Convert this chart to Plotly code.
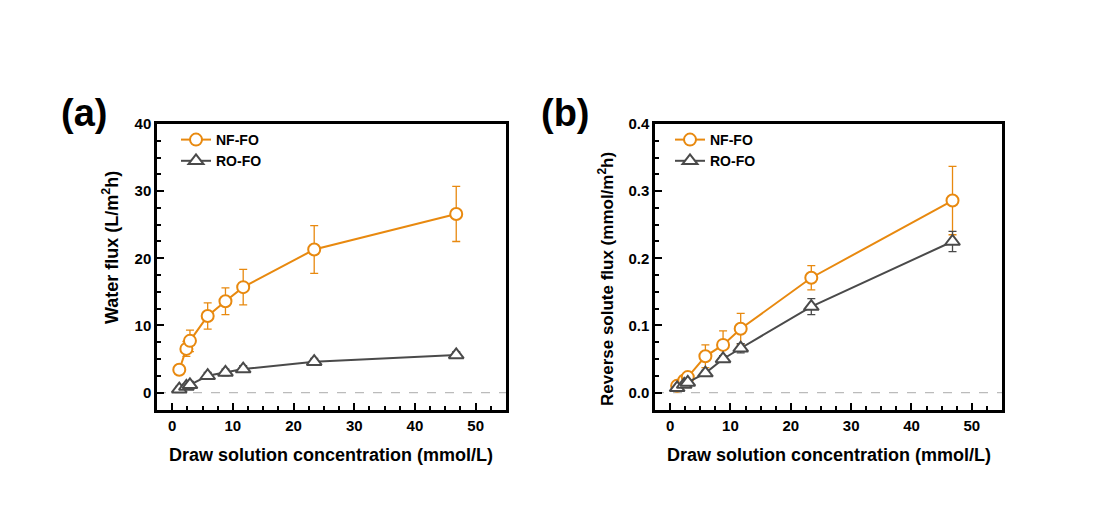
import plotly.graph_objects as go

# ---- data ----
conc = [1.17, 2.34, 2.93, 5.85, 8.78, 11.7, 23.4, 46.8]

# (a) water flux, L/m2h
nf_flux = [3.4, 6.5, 7.7, 11.4, 13.6, 15.7, 21.3, 26.6]
nf_flux_err = [0.7, 1.1, 1.6, 1.95, 2.0, 2.65, 3.55, 4.1]
ro_flux = [0.5, 0.9, 1.15, 2.5, 3.0, 3.5, 4.6, 5.6]
ro_flux_err = [0.4, 0.4, 0.5, 0.5, 0.5, 0.5, 0.5, 0.5]

# (b) reverse solute flux, mmol/m2h
nf_rsf = [0.010, 0.018, 0.023, 0.054, 0.071, 0.095, 0.171, 0.286]
nf_rsf_err = [0.003, 0.004, 0.005, 0.017, 0.021, 0.023, 0.018, 0.051]
ro_rsf = [0.007, 0.012, 0.015, 0.029, 0.050, 0.066, 0.128, 0.225]
ro_rsf_err = [0.003, 0.003, 0.003, 0.004, 0.005, 0.007, 0.012, 0.015]

ORANGE = "#E8890F"
GRAY = "#4A4A4A"
FONT = "Liberation Sans, Arial, sans-serif"

fig = go.Figure()

def add_series(x, y, err, name, color, symbol, xa, ya, legend, msize):
    fig.add_trace(go.Scatter(
        x=x, y=y, name=name, mode="lines+markers",
        xaxis=xa, yaxis=ya, legend=legend,
        line=dict(color=color, width=2),
        marker=dict(symbol=symbol, size=msize, color="white",
                    line=dict(color=color, width=2)),
        error_y=dict(type="data", array=err, visible=True,
                     color=color, thickness=1.3, width=4),
    ))

add_series(conc, nf_flux, nf_flux_err, "NF-FO", ORANGE, "circle", "x", "y", "legend", 12)
add_series(conc, ro_flux, ro_flux_err, "RO-FO", GRAY, "triangle-up", "x", "y", "legend", 13)
add_series(conc, nf_rsf, nf_rsf_err, "NF-FO", ORANGE, "circle", "x2", "y2", "legend2", 12)
add_series(conc, ro_rsf, ro_rsf_err, "RO-FO", GRAY, "triangle-up", "x2", "y2", "legend2", 13)

H = 509.0
W = 1100.0
ydom = [1 - 410 / H, 1 - 124 / H]

axis_common = dict(
    showline=True, linecolor="black", linewidth=2.5, mirror=True,
    ticks="inside", ticklen=7, tickwidth=2, tickcolor="black",
    showgrid=False, zeroline=False, automargin=False,
    tickfont=dict(family=FONT, size=15, color="black", weight="bold"),
)
minor_common = dict(ticks="inside", ticklen=4, tickwidth=2, tickcolor="black")
legend_common = dict(xanchor="left", yanchor="top", bgcolor="rgba(0,0,0,0)",
                     borderwidth=0, tracegroupgap=0,
                     font=dict(family=FONT, size=14, color="black", weight="bold"))

fig.update_layout(
    width=1100, height=509,
    margin=dict(l=0, r=0, t=0, b=0, autoexpand=False),
    paper_bgcolor="white", plot_bgcolor="white",
    showlegend=True,
    xaxis=dict(domain=[157 / W, 506 / W], range=[-2.5, 55], dtick=10, tick0=0,
               minor=dict(dtick=2.5, **minor_common), anchor="y", **axis_common),
    yaxis=dict(domain=ydom, range=[-2.6, 40], dtick=10, tick0=0,
               minor=dict(dtick=2.5, **minor_common), anchor="x", **axis_common),
    xaxis2=dict(domain=[655 / W, 1002 / W], range=[-2.5, 55], dtick=10, tick0=0,
                minor=dict(dtick=2.5, **minor_common), anchor="y2", **axis_common),
    yaxis2=dict(domain=ydom, range=[-0.026, 0.4], dtick=0.1, tick0=0, tickformat=".1f",
                minor=dict(dtick=0.025, **minor_common), anchor="x2", **axis_common),
    legend=dict(x=176 / W, y=1 - 124 / H, **legend_common),
    legend2=dict(x=670 / W, y=1 - 124 / H, **legend_common),
)

# dashed zero lines
for xr, yr in (("x domain", "y"), ("x2 domain", "y2")):
    fig.add_shape(type="line", xref=xr, yref=yr, x0=0, x1=1, y0=0, y1=0,
                  line=dict(color="#BBBBBB", width=1.2, dash="dash"), layer="below")

ann_font = dict(family=FONT, size=18, color="black", weight="bold")
common = dict(xref="paper", yref="paper", showarrow=False, xanchor="center", yanchor="middle")
annotations = [
    dict(text="Draw solution concentration (mmol/L)", x=331 / W, y=1 - 455 / H,
         font=ann_font, **common),
    dict(text="Draw solution concentration (mmol/L)", x=829 / W, y=1 - 455 / H,
         font=ann_font, **common),
    dict(text="Water flux (L/m<sup>2</sup>h)", x=110 / W, y=1 - 248 / H, textangle=-90,
         font=ann_font, **common),
    dict(text="Reverse solute flux (mmol/m<sup>2</sup>h)", x=606 / W, y=1 - 279 / H,
         textangle=-90, font=dict(family=FONT, size=17, color="black", weight="bold"),
         **common),
    dict(text="(a)", x=84 / W, y=1 - 113 / H,
         font=dict(family=FONT, size=38, color="black", weight="bold"), **common),
    dict(text="(b)", x=565 / W, y=1 - 113 / H,
         font=dict(family=FONT, size=38, color="black", weight="bold"), **common),
]
fig.update_layout(annotations=annotations)

fig.write_html("out.html")
